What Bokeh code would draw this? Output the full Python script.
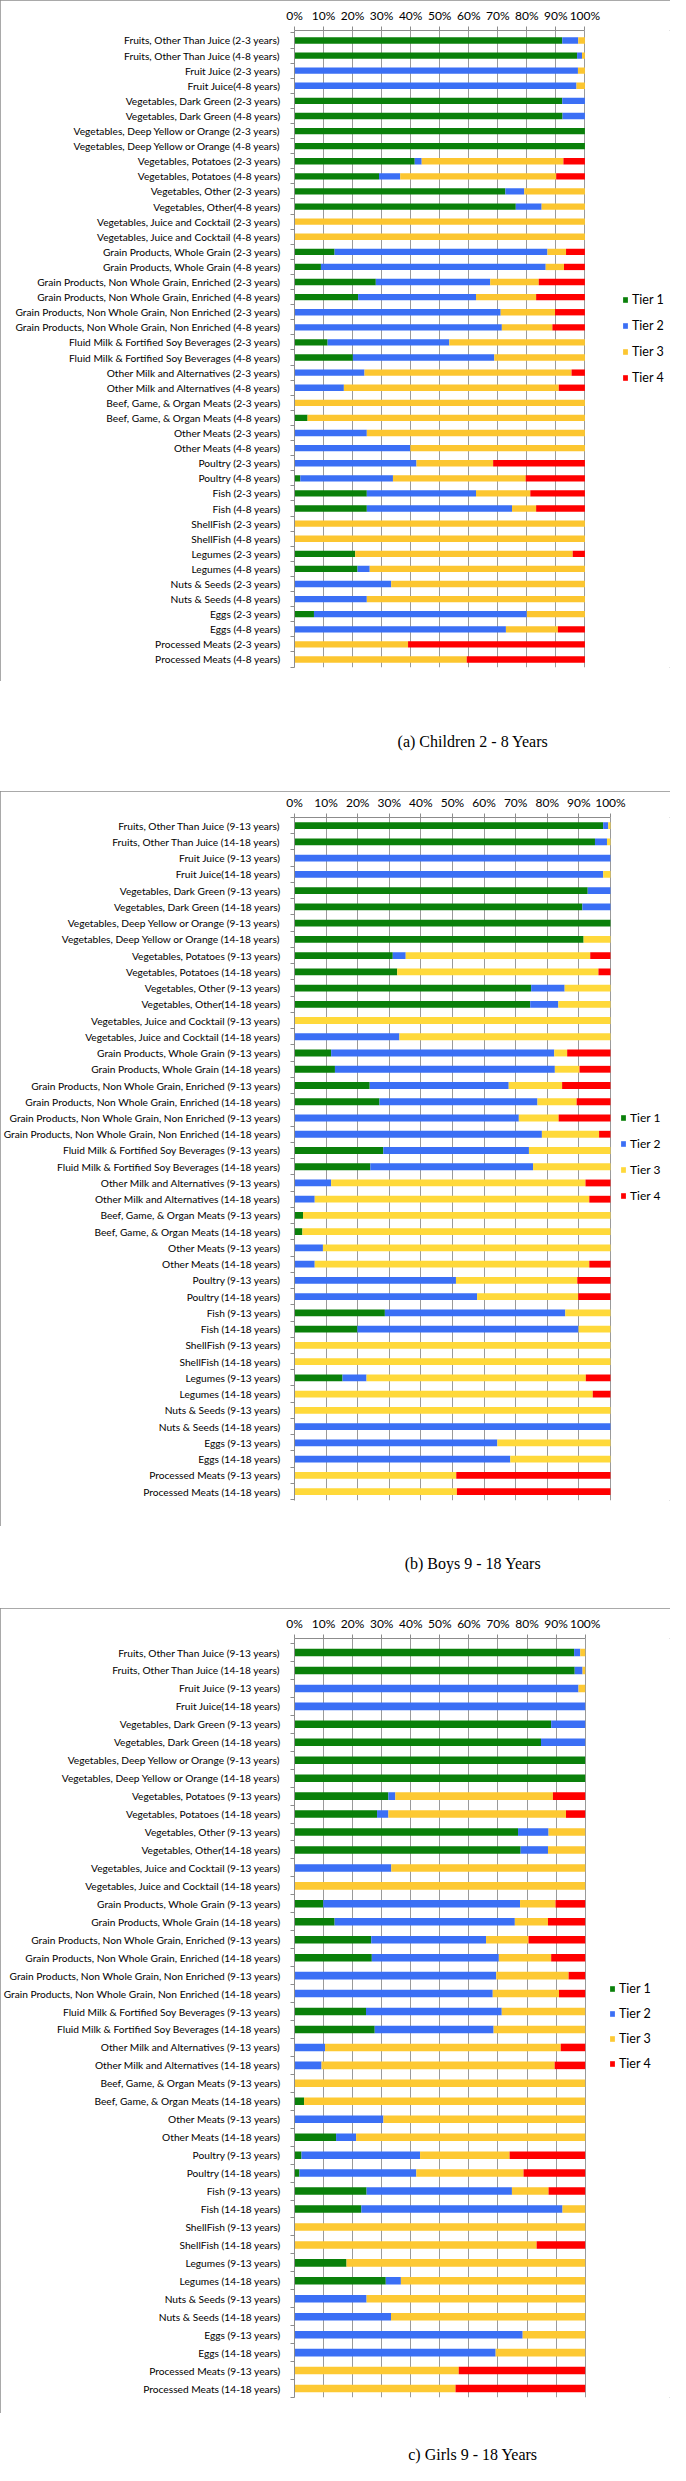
from bokeh.plotting import figure
from bokeh.models import ColumnDataSource, Range1d, FixedTicker, PrintfTickFormatter
from bokeh.layouts import column
from bokeh.embed import file_html
from bokeh.resources import INLINE
from bokeh.core.properties import value

TIERS = ["Tier 1", "Tier 2", "Tier 3", "Tier 4"]

FOODS = ["Fruits, Other Than Juice", "Fruit Juice", "Vegetables, Dark Green",
         "Vegetables, Deep Yellow or Orange", "Vegetables, Potatoes", "Vegetables, Other",
         "Vegetables, Juice and Cocktail", "Grain Products, Whole Grain",
         "Grain Products, Non Whole Grain, Enriched", "Grain Products, Non Whole Grain, Non Enriched",
         "Fluid Milk & Fortified Soy Beverages", "Other Milk and Alternatives",
         "Beef, Game, & Organ Meats", "Other Meats", "Poultry", "Fish", "ShellFish",
         "Legumes", "Nuts & Seeds", "Eggs", "Processed Meats"]
NO_SPACE = ["Fruit Juice", "Vegetables, Other"]  # second age group written without a space


def make_labels(age_a, age_b):
    out = []
    for f in FOODS:
        out.append(f + " (" + age_a + ")")
        out.append(f + ("(" if f in NO_SPACE else " (") + age_b + ")")
    return out


labels_children = make_labels("2-3 years", "4-8 years")
labels_teens = make_labels("9-13 years", "14-18 years")

# ---------------- (a) Children 2 - 8 years ----------------
children_tier1 = [92.2, 97.3, 0, 0, 92.2, 92.3, 100, 100, 41.4, 29.1, 72.6, 76.2, 0, 0,
                  13.8, 9.1, 28.0, 21.9, 0, 0, 11.4, 20.1, 0, 0, 0, 4.5, 0, 0, 0, 2.0,
                  24.9, 24.9, 0, 0, 20.9, 21.7, 0, 0, 6.7, 0, 0, 0]
children_tier2 = [5.5, 1.7, 97.6, 97.1, 7.8, 7.7, 0, 0, 2.4, 7.3, 6.5, 8.9, 0, 0,
                  73.3, 77.4, 39.4, 40.6, 71.0, 71.4, 41.9, 48.7, 24.1, 17.0, 0, 0, 24.9, 39.9, 42.0, 31.9,
                  37.6, 50.0, 0, 0, 0, 4.2, 33.3, 24.9, 73.3, 72.8, 0, 0]
children_tier3 = [2.3, 1.0, 2.4, 2.9, 0, 0, 0, 0, 48.8, 53.7, 20.9, 14.9, 100, 100,
                  6.4, 6.3, 16.7, 20.7, 18.7, 17.4, 46.7, 31.2, 71.3, 74.0, 100, 95.5, 75.1, 60.1, 26.4, 45.7,
                  18.7, 8.3, 100, 100, 74.9, 74.1, 66.7, 75.1, 20.0, 17.9, 39.1, 59.3]
children_tier4 = [0, 0, 0, 0, 0, 0, 0, 0, 7.4, 9.9, 0, 0, 0, 0,
                  6.5, 7.2, 15.9, 16.8, 10.3, 11.2, 0, 0, 4.6, 9.0, 0, 0, 0, 0, 31.6, 20.4,
                  18.8, 16.8, 0, 0, 4.2, 0, 0, 0, 0, 9.3, 60.9, 40.7]

# ---------------- (b) Boys 9 - 18 years ----------------
boys_tier1 = [97.7, 95.1, 0, 0, 92.8, 91.1, 100, 91.5, 31.1, 32.5, 74.9, 74.6, 0, 0,
              11.6, 12.8, 23.8, 26.9, 0, 0, 28.1, 24.0, 0, 0, 2.7, 2.5, 0, 0, 0, 0,
              28.6, 19.9, 0, 0, 15.2, 0, 0, 0, 0, 0, 0, 0]
boys_tier2 = [1.6, 3.8, 100, 97.7, 7.2, 8.9, 0, 0, 4.1, 0, 10.6, 8.9, 0, 33.2,
              70.6, 69.6, 44.0, 50.0, 71.0, 78.3, 46.1, 51.5, 11.6, 6.4, 0, 0, 9.0, 6.4, 51.1, 57.8,
              57.1, 70.0, 0, 0, 7.6, 0, 0, 100, 64.2, 68.3, 0, 0]
boys_tier3 = [0.7, 1.1, 0, 2.3, 0, 0, 0, 8.5, 58.4, 63.7, 14.5, 16.5, 100, 66.8,
              4.1, 7.8, 16.9, 12.4, 12.6, 18.1, 25.8, 24.5, 80.5, 86.9, 97.3, 97.5, 91.0, 86.9, 38.4, 32.0,
              14.3, 10.1, 100, 100, 69.4, 94.4, 100, 0, 35.8, 31.7, 51.2, 51.4]
boys_tier4 = [0, 0, 0, 0, 0, 0, 0, 0, 6.4, 3.8, 0, 0, 0, 0,
              13.7, 9.8, 15.3, 10.7, 16.4, 3.6, 0, 0, 7.9, 6.7, 0, 0, 0, 6.7, 10.5, 10.2,
              0, 0, 0, 0, 7.8, 5.6, 0, 0, 0, 0, 48.8, 48.6]

# ---------------- (c) Girls 9 - 18 years ----------------
girls_tier1 = [96.2, 96.4, 0, 0, 88.3, 84.8, 100, 100, 32.3, 28.4, 76.9, 77.8, 0, 0,
               9.9, 13.8, 26.4, 26.6, 0, 0, 24.6, 27.6, 0, 0, 0, 3.3, 0, 14.3, 2.4, 1.7,
               24.8, 23.0, 0, 0, 17.9, 31.4, 0, 0, 0, 0, 0, 0]
girls_tier2 = [2.1, 2.7, 97.7, 100, 11.7, 15.2, 0, 0, 2.4, 3.9, 10.5, 9.4, 33.3, 0,
               67.7, 62.0, 39.5, 43.7, 69.4, 68.2, 46.7, 40.9, 10.5, 9.3, 0, 0, 30.6, 6.9, 40.8, 40.2,
               50.0, 69.2, 0, 0, 0, 5.2, 24.8, 33.2, 78.5, 69.2, 0, 0]
girls_tier3 = [1.7, 0.9, 2.3, 0, 0, 0, 0, 0, 54.2, 61.1, 12.6, 12.8, 66.7, 100,
               12.2, 11.4, 14.6, 18.0, 24.9, 22.8, 28.7, 31.5, 81.1, 80.2, 100, 96.7, 69.4, 78.8, 30.8, 36.9,
               12.6, 7.8, 100, 83.3, 82.1, 63.4, 75.2, 66.8, 21.5, 30.8, 56.5, 55.4]
girls_tier4 = [0, 0, 0, 0, 0, 0, 0, 0, 11.1, 6.6, 0, 0, 0, 0,
               10.2, 12.8, 19.5, 11.7, 5.7, 9.0, 0, 0, 8.4, 10.5, 0, 0, 0, 0, 26.0, 21.2,
               12.6, 0, 0, 16.7, 0, 0, 0, 0, 0, 0, 43.5, 44.6]

CAPTIONS = ["(a) Children 2 - 8 Years", "(b) Boys 9 - 18 Years", "c) Girls 9 - 18 Years"]
X_TICKS = list(range(0, 101, 10))

GREEN = "#0a800a"
BLUE = "#3b6ff5"
RED = "#ff0000"
GRID = "#9a9a9a"
BOX = "#8c8c8c"
W = 670


def panel(labels, t1, t2, t3, t4, yellow, height, mbl, frame_w, mbt, mbb, yr, leg_xy, leg_spacing, leg_font):
    n = len(labels)
    x_end = 100.0 * (W - mbl) / frame_w
    src = ColumnDataSource(dict(y=list(range(n)), t1=t1, t2=t2, t3=t3, t4=t4))
    p = figure(width=W, height=height, x_range=Range1d(0, x_end), y_range=Range1d(yr[0], yr[1]),
               x_axis_location="above", toolbar_location=None, output_backend="svg",
               min_border_left=mbl, min_border_right=0, min_border_top=mbt, min_border_bottom=mbb)
    p.hbar_stack(["t1", "t2", "t3", "t4"], y="y", height=0.42,
                 fill_color=[GREEN, BLUE, yellow, RED], line_color=None,
                 source=src, legend_label=TIERS)
    p.outline_line_color = None
    p.background_fill_color = "white"
    p.border_fill_color = "white"
    p.styles = {"outline": "1px solid " + BOX, "outline-offset": "-1px"}

    xa = p.xaxis[0]
    xa.ticker = FixedTicker(ticks=X_TICKS)
    xa.bounds = (0, 100)
    xa.formatter = PrintfTickFormatter(format="%d%%")
    xa.major_tick_out = 4
    xa.major_tick_in = 0
    xa.minor_tick_out = 0
    xa.minor_tick_in = 0
    xa.axis_line_color = BOX
    xa.major_tick_line_color = BOX
    xa.major_label_text_font = "Lato"
    xa.major_label_text_font_size = "12px"
    xa.major_label_text_color = "black"
    xa.major_label_standoff = 4

    ya = p.yaxis[0]
    ya.ticker = FixedTicker(ticks=list(range(n)), minor_ticks=[i - 0.5 for i in range(n + 1)])
    ya.major_label_overrides = {i: lab for i, lab in enumerate(labels)}
    ya.major_tick_out = 0
    ya.major_tick_in = 0
    ya.minor_tick_out = 4
    ya.minor_tick_in = 0
    ya.axis_line_color = BOX
    ya.minor_tick_line_color = BOX
    ya.major_label_text_font = "Lato"
    ya.major_label_text_font_size = "10.2px"
    ya.major_label_text_color = "black"
    ya.major_label_standoff = 10

    p.xgrid.ticker = FixedTicker(ticks=X_TICKS)
    p.xgrid.grid_line_color = GRID
    p.ygrid.grid_line_color = None

    leg = p.legend[0]
    leg.location = leg_xy
    leg.border_line_color = None
    leg.background_fill_alpha = 0
    leg.padding = 0
    leg.margin = 0
    leg.spacing = leg_spacing
    leg.glyph_width = 6
    leg.glyph_height = 7
    leg.label_height = 14
    leg.label_standoff = 4
    leg.label_text_font = "Lato"
    leg.label_text_font_size = leg_font
    leg.label_text_color = "black"
    return p


def caption(text, height, yfrac):
    c = figure(width=W, height=height, x_range=Range1d(0, 1), y_range=Range1d(0, 1),
               toolbar_location=None, output_backend="svg", x_axis_type=None, y_axis_type=None,
               min_border=0)
    c.outline_line_color = None
    c.grid.visible = False
    c.text(x=[0.4746], y=[yfrac], text=[text], text_align="center", text_baseline="middle",
           text_font=value("Liberation Serif"), text_font_size="16px", text_color="black")
    return c


p1 = panel(labels_children, children_tier1, children_tier2, children_tier3, children_tier4,
           "#fcc630", 681, 279, 302, 30, 14, (41.53, -0.66), (328, 282), 11, "12.5px")
p2 = panel(labels_teens, boys_tier1, boys_tier2, boys_tier3, boys_tier4,
           "#ffd93a", 735, 288, 321, 26, 26, (41.55, -0.5), (326, 297), 11, "12px")
p3 = panel(labels_teens, girls_tier1, girls_tier2, girls_tier3, girls_tier4,
           "#fdc933", 805, 291, 293, 30, 16, (41.5, -0.78), (315, 326), 10, "12.5px")

c1 = caption(CAPTIONS[0], 110, 0.4545)
c2 = caption(CAPTIONS[1], 82, 0.549)
c3 = caption(CAPTIONS[2], 51, 0.196)

layout = column(p1, c1, p2, c2, p3, c3, spacing=0)
open("out.html", "w").write(file_html(layout, INLINE))
